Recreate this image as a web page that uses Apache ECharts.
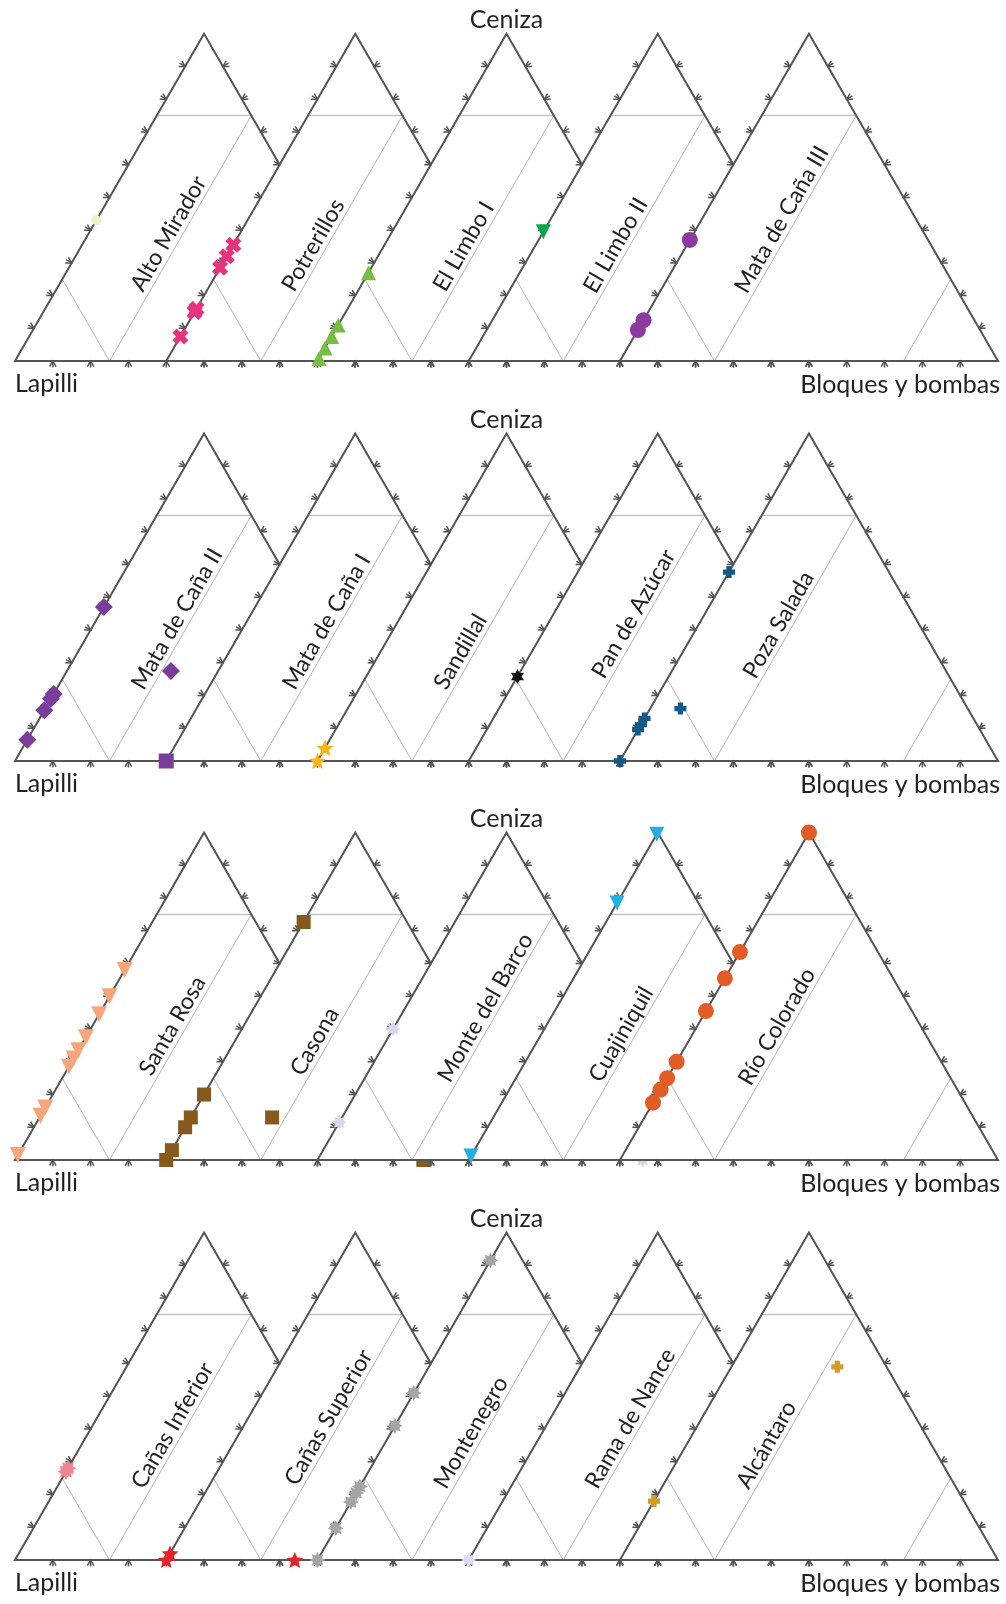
<!DOCTYPE html>
<html>
<head>
<meta charset="utf-8">
<script src="https://cdn.jsdelivr.net/npm/echarts@6/dist/echarts.min.js"></script>
<style>
  html, body { margin: 0; padding: 0; background: #ffffff; }
  #chart { width: 1006px; height: 1604px; }
</style>
</head>
<body>
<div id="chart"></div>
<script>
// Corner names of every ternary diagram
const apexName = 'Ceniza';
const leftName = 'Lapilli';
const rightName = 'Bloques y bombas';

// Unit names, five overlapping diagrams per row
const rowUnits = [
  ['Alto Mirador', 'Potrerillos', 'El Limbo I', 'El Limbo II', 'Mata de Caña III'],
  ['Mata de Caña II', 'Mata de Caña I', 'Sandillal', 'Pan de Azúcar', 'Poza Salada'],
  ['Santa Rosa', 'Casona', 'Monte del Barco', 'Cuajiniquil', 'Río Colorado'],
  ['Cañas Inferior', 'Cañas Superior', 'Montenegro', 'Rama de Nance', 'Alcántaro']
];

// Samples as [lapilli, ceniza, bloques y bombas] in %
const altoMirador   = [[57, 43, 0]];
const potrerillos   = [[64.5, 35.5, 0], [68, 32, 0], [71.5, 28.5, 0], [84, 16, 0], [85, 15, 0], [92.5, 7.5, 0]];
const elLimboI      = [[73, 27, 0], [89, 11, 0], [92.5, 7.5, 0], [96, 4, 0], [99.2, 0.8, 0]];
const elLimboII     = [[60.5, 39.5, 0]];
const mataCanaIII   = [[63, 37, 0], [87.5, 12.5, 0], [90.5, 9.5, 0]];

const mataCanaII    = [[53, 47, 0], [79.5, 20.5, 0], [81, 19, 0], [84.5, 15.5, 0], [93.5, 6.5, 0], [45, 27.5, 27.5]];
const mataCanaI     = [[100, 0, 0]];
const sandillal     = [[96, 4, 0], [100, 0, 0]];
const panAzucar     = [[74.2, 25.8, 0]];
const pozaSalada    = [[42.3, 57.7, 0], [87, 13, 0], [88.9, 11.1, 0], [90.4, 9.6, 0], [76, 16, 8], [100, 0, 0]];

const santaRosa     = [[42, 58, 0], [50, 50, 0], [55.5, 44.5, 0], [62.5, 37.5, 0], [66.5, 33.5, 0], [69, 31, 0], [71.5, 28.5, 0], [84, 16, 0], [86.5, 13.5, 0], [98.5, 1.5, 0]];
const casona        = [[27.3, 72.7, 0], [80, 20, 0], [87, 13, 0], [90, 10, 0], [97, 3, 0], [100, 0, 0], [65.5, 13, 21.5], [32, 0, 68]];
const monteBarco    = [[60, 40, 0], [88.5, 11.5, 0], [14, 0, 86]];
const cuajiniquil   = [[0.5, 99.5, 0], [21.5, 78.5, 0], [98.8, 1.2, 0]];
const rioColorado   = [[0, 100, 0], [36.5, 63.5, 0], [44.5, 55.5, 0], [54.5, 45.5, 0], [70, 30, 0], [75, 25, 0], [78.5, 21.5, 0], [82.5, 17.5, 0]];

const canasInferior = [[72, 28, 0], [73, 27, 0]];
const canasSuperior = [[98, 2, 0], [100, 0, 0], [66, 0, 34]];
const montenegro    = [[8.5, 91.5, 0], [49, 51, 0], [59, 41, 0], [77.6, 22.4, 0], [79.5, 20.5, 0], [82.3, 17.7, 0], [90.3, 9.7, 0], [100, 0, 0]];
const ramaNance     = [[100, 0, 0]];
const alcantaro     = [[82, 18, 0], [13, 59, 28]];

const rowSamples = [
  [altoMirador, potrerillos, elLimboI, elLimboII, mataCanaIII],
  [mataCanaII, mataCanaI, sandillal, panAzucar, pozaSalada],
  [santaRosa, casona, monteBarco, cuajiniquil, rioColorado],
  [canasInferior, canasSuperior, montenegro, ramaNance, alcantaro]
];

// ---- marker shapes ----
function starPath(n, rOut, rIn) {
  let d = '';
  for (let i = 0; i < 2 * n; i++) {
    const r = i % 2 ? rIn : rOut;
    const a = -Math.PI / 2 + i * Math.PI / n;
    d += (i ? 'L' : 'M') + (10 + r * Math.cos(a)).toFixed(2) + ',' + (10 + r * Math.sin(a)).toFixed(2) + ' ';
  }
  return 'path://' + d + 'Z';
}
const CROSS = 'path://M0,2.7 L2.7,0 L5,2.3 L7.3,0 L10,2.7 L7.7,5 L10,7.3 L7.3,10 L5,7.7 L2.7,10 L0,7.3 L2.3,5 Z';
const PLUS = 'path://M2.8,0 L7.2,0 L7.2,2.8 L10,2.8 L10,7.2 L7.2,7.2 L7.2,10 L2.8,10 L2.8,7.2 L0,7.2 L0,2.8 L2.8,2.8 Z';
const STAR5 = starPath(5, 10, 4.6);
const STAR6 = starPath(6, 10, 5.6);
const STAR8 = starPath(8, 10, 6);

const rowMarkers = [
  [
    { symbol: 'circle', size: 10, rotate: 0, color: '#f3eec8' },
    { symbol: CROSS, size: 16, rotate: 0, color: '#e5337c' },
    { symbol: 'triangle', size: 15, rotate: 0, color: '#76bf43' },
    { symbol: 'triangle', size: 15, rotate: 180, color: '#0aa552' },
    { symbol: 'circle', size: 16, rotate: 0, color: '#8c3a9f' }
  ],
  [
    { symbol: 'diamond', size: 18, rotate: 0, color: '#7a3d99' },
    { symbol: 'rect', size: 15, rotate: 0, color: '#7a3d99' },
    { symbol: STAR5, size: 17, rotate: 0, color: '#fbb517' },
    { symbol: STAR6, size: 15, rotate: 0, color: '#111111' },
    { symbol: PLUS, size: 12, rotate: 0, color: '#125985' }
  ],
  [
    { symbol: 'triangle', size: 16, rotate: 180, color: '#f6a57c' },
    { symbol: 'rect', size: 14, rotate: 0, color: '#87591d' },
    { symbol: STAR8, size: 15, rotate: 0, color: '#d9d6ec' },
    { symbol: 'triangle', size: 15, rotate: 180, color: '#23aee6' },
    { symbol: 'circle', size: 16, rotate: 0, color: '#e45c25' }
  ],
  [
    { symbol: STAR8, size: 17, rotate: 0, color: '#ef8593' },
    { symbol: STAR5, size: 17, rotate: 0, color: '#e3242b' },
    { symbol: STAR8, size: 16, rotate: 0, color: '#a5a5a5' },
    { symbol: STAR8, size: 15, rotate: 0, color: '#dcdaee' },
    { symbol: PLUS, size: 12, rotate: 0, color: '#d49a2b' }
  ]
];

// Where each unit name starts along the 25 % bloques line (ceniza %)
const labelStartAsh = [
  [20, 20, 20, 19.5, 19.5],
  [20.5, 20.5, 20.5, 24, 24],
  [24.5, 24.5, 22.5, 22.5, 21.5],
  [20.5, 21.5, 20.5, 20.5, 20.5]
];

// ---- geometry ----
const SQ = Math.sqrt(3) / 2;     // height of a unit triangle
const SHIFT = 0.4;               // offset between neighbouring diagrams (side units)
const SPAN = 4 * SHIFT + 1;      // full width of one row
const rowBases = [361.1, 761, 1160, 1560];
const TRI_H = 327.4;
const FONT = 'Lato, "Open Sans", sans-serif';
const TEXT_COLOR = '#231f20';
const EDGE_COLOR = '#555555';
const FIELD_COLOR = '#b4b4b4';

function toXY(k, p) {
  const s = p[0] + p[1] + p[2];
  const a = p[1] / s, b = p[2] / s;
  return [k * SHIFT + b + a / 2, a * SQ];
}

function rot(v, t) {
  const c = Math.cos(t), s = Math.sin(t);
  return [v[0] * c - v[1] * s, v[0] * s + v[1] * c];
}

function tickShape(p, n, len) {
  const a = rot(n, Math.PI / 6), b = rot(n, -Math.PI / 6);
  return [
    { type: 'polyline', shape: { points: [[p[0] + a[0] * len, p[1] + a[1] * len], p, [p[0] + b[0] * len, p[1] + b[1] * len]] },
      style: { stroke: EDGE_COLOR, lineWidth: 1.5, fill: null } },
    { type: 'line', shape: { x1: p[0], y1: p[1], x2: p[0] + n[0] * len, y2: p[1] + n[1] * len },
      style: { stroke: EDGE_COLOR, lineWidth: 1.5 } }
  ];
}

function frameRenderer(k, name, startAsh) {
  return function (params, api) {
    const P = (L, A, B) => api.coord(toXY(k, [L, A, B]));
    const vL = P(100, 0, 0), vA = P(0, 100, 0), vB = P(0, 0, 100);
    const children = [];
    children.push({ type: 'polygon', shape: { points: [vL, vA, vB] }, style: { fill: '#ffffff', stroke: null } });

    // Fisher field boundaries
    const fields = [
      [[25, 75, 0], [0, 75, 25]],
      [[75, 0, 25], [0, 75, 25]],
      [[75, 25, 0], [75, 0, 25]],
      [[0, 25, 75], [25, 0, 75]]
    ];
    fields.forEach((f, i) => {
      const p1 = P(...f[0]), p2 = P(...f[1]);
      children.push({ type: 'line', shape: { x1: p1[0], y1: p1[1], x2: p2[0], y2: p2[1] },
        style: { stroke: i === 0 ? '#c4c4c4' : FIELD_COLOR, lineWidth: i === 0 ? 1.5 : 1 } });
    });

    children.push({ type: 'polygon', shape: { points: [vL, vA, vB] },
      style: { fill: null, stroke: EDGE_COLOR, lineWidth: 2, lineJoin: 'miter' } });

    // ticks every 10 %
    for (let t = 10; t < 100; t += 10) {
      children.push(...tickShape(P(100 - t, t, 0), [-SQ, -0.5], 6.5));
      children.push(...tickShape(P(0, t, 100 - t), [SQ, -0.5], 6.5));
      children.push(...tickShape(P(100 - t, 0, t), [0, 1], 6.5));
    }

    // unit name along the 25 % bloques line
    const s = P(75 - startAsh, startAsh, 25);
    const d = 1;
    children.push({ type: 'text', x: s[0] - SQ * d, y: s[1] - 0.5 * d, rotation: Math.PI / 3,
      style: { text: name, fontSize: 23, fontFamily: FONT, fill: TEXT_COLOR, align: 'left', verticalAlign: 'bottom' } });

    return { type: 'group', children };
  };
}

function titleRenderer(params, api) {
  const apex = api.coord(toXY(2, [0, 100, 0]));
  const left = api.coord(toXY(0, [100, 0, 0]));
  const right = api.coord(toXY(4, [0, 0, 100]));
  const st = (text, align) => ({ text, fontSize: 25, fontFamily: FONT, fill: TEXT_COLOR, align, verticalAlign: 'middle' });
  return { type: 'group', children: [
    { type: 'text', x: apex[0], y: apex[1] - 14, style: st(apexName, 'center') },
    { type: 'text', x: left[0], y: left[1] + 23, style: st(leftName, 'left') },
    { type: 'text', x: right[0] + 2, y: right[1] + 24, style: st(rightName, 'right') }
  ] };
}

const grids = [], xAxes = [], yAxes = [], series = [];
rowBases.forEach((base, r) => {
  grids.push({ left: 15, width: 983, top: base - TRI_H, height: TRI_H });
  xAxes.push({ type: 'value', gridIndex: r, min: 0, max: SPAN, show: false });
  yAxes.push({ type: 'value', gridIndex: r, min: 0, max: SQ, show: false });
  for (let k = 0; k < 5; k++) {
    series.push({
      type: 'custom', xAxisIndex: r, yAxisIndex: r, z: 2 + 2 * k, silent: true, clip: false,
      data: [[0, 0]], renderItem: frameRenderer(k, rowUnits[r][k], labelStartAsh[r][k])
    });
    const m = rowMarkers[r][k];
    series.push({
      type: 'scatter', name: rowUnits[r][k], xAxisIndex: r, yAxisIndex: r, z: 3 + 2 * k,
      silent: true, clip: false, symbol: m.symbol, symbolSize: m.size, symbolRotate: m.rotate,
      symbolKeepAspect: true, itemStyle: { color: m.color, opacity: 1 },
      data: rowSamples[r][k].map(p => toXY(k, p))
    });
  }
  series.push({ type: 'custom', xAxisIndex: r, yAxisIndex: r, z: 20, silent: true, clip: false,
    data: [[0, 0]], renderItem: titleRenderer });
});

const chart = echarts.init(document.getElementById('chart'), null, { renderer: 'canvas', width: 1006, height: 1604 });
chart.setOption({
  animation: false,
  backgroundColor: '#ffffff',
  grid: grids,
  xAxis: xAxes,
  yAxis: yAxes,
  series: series
});
</script>
</body>
</html>
